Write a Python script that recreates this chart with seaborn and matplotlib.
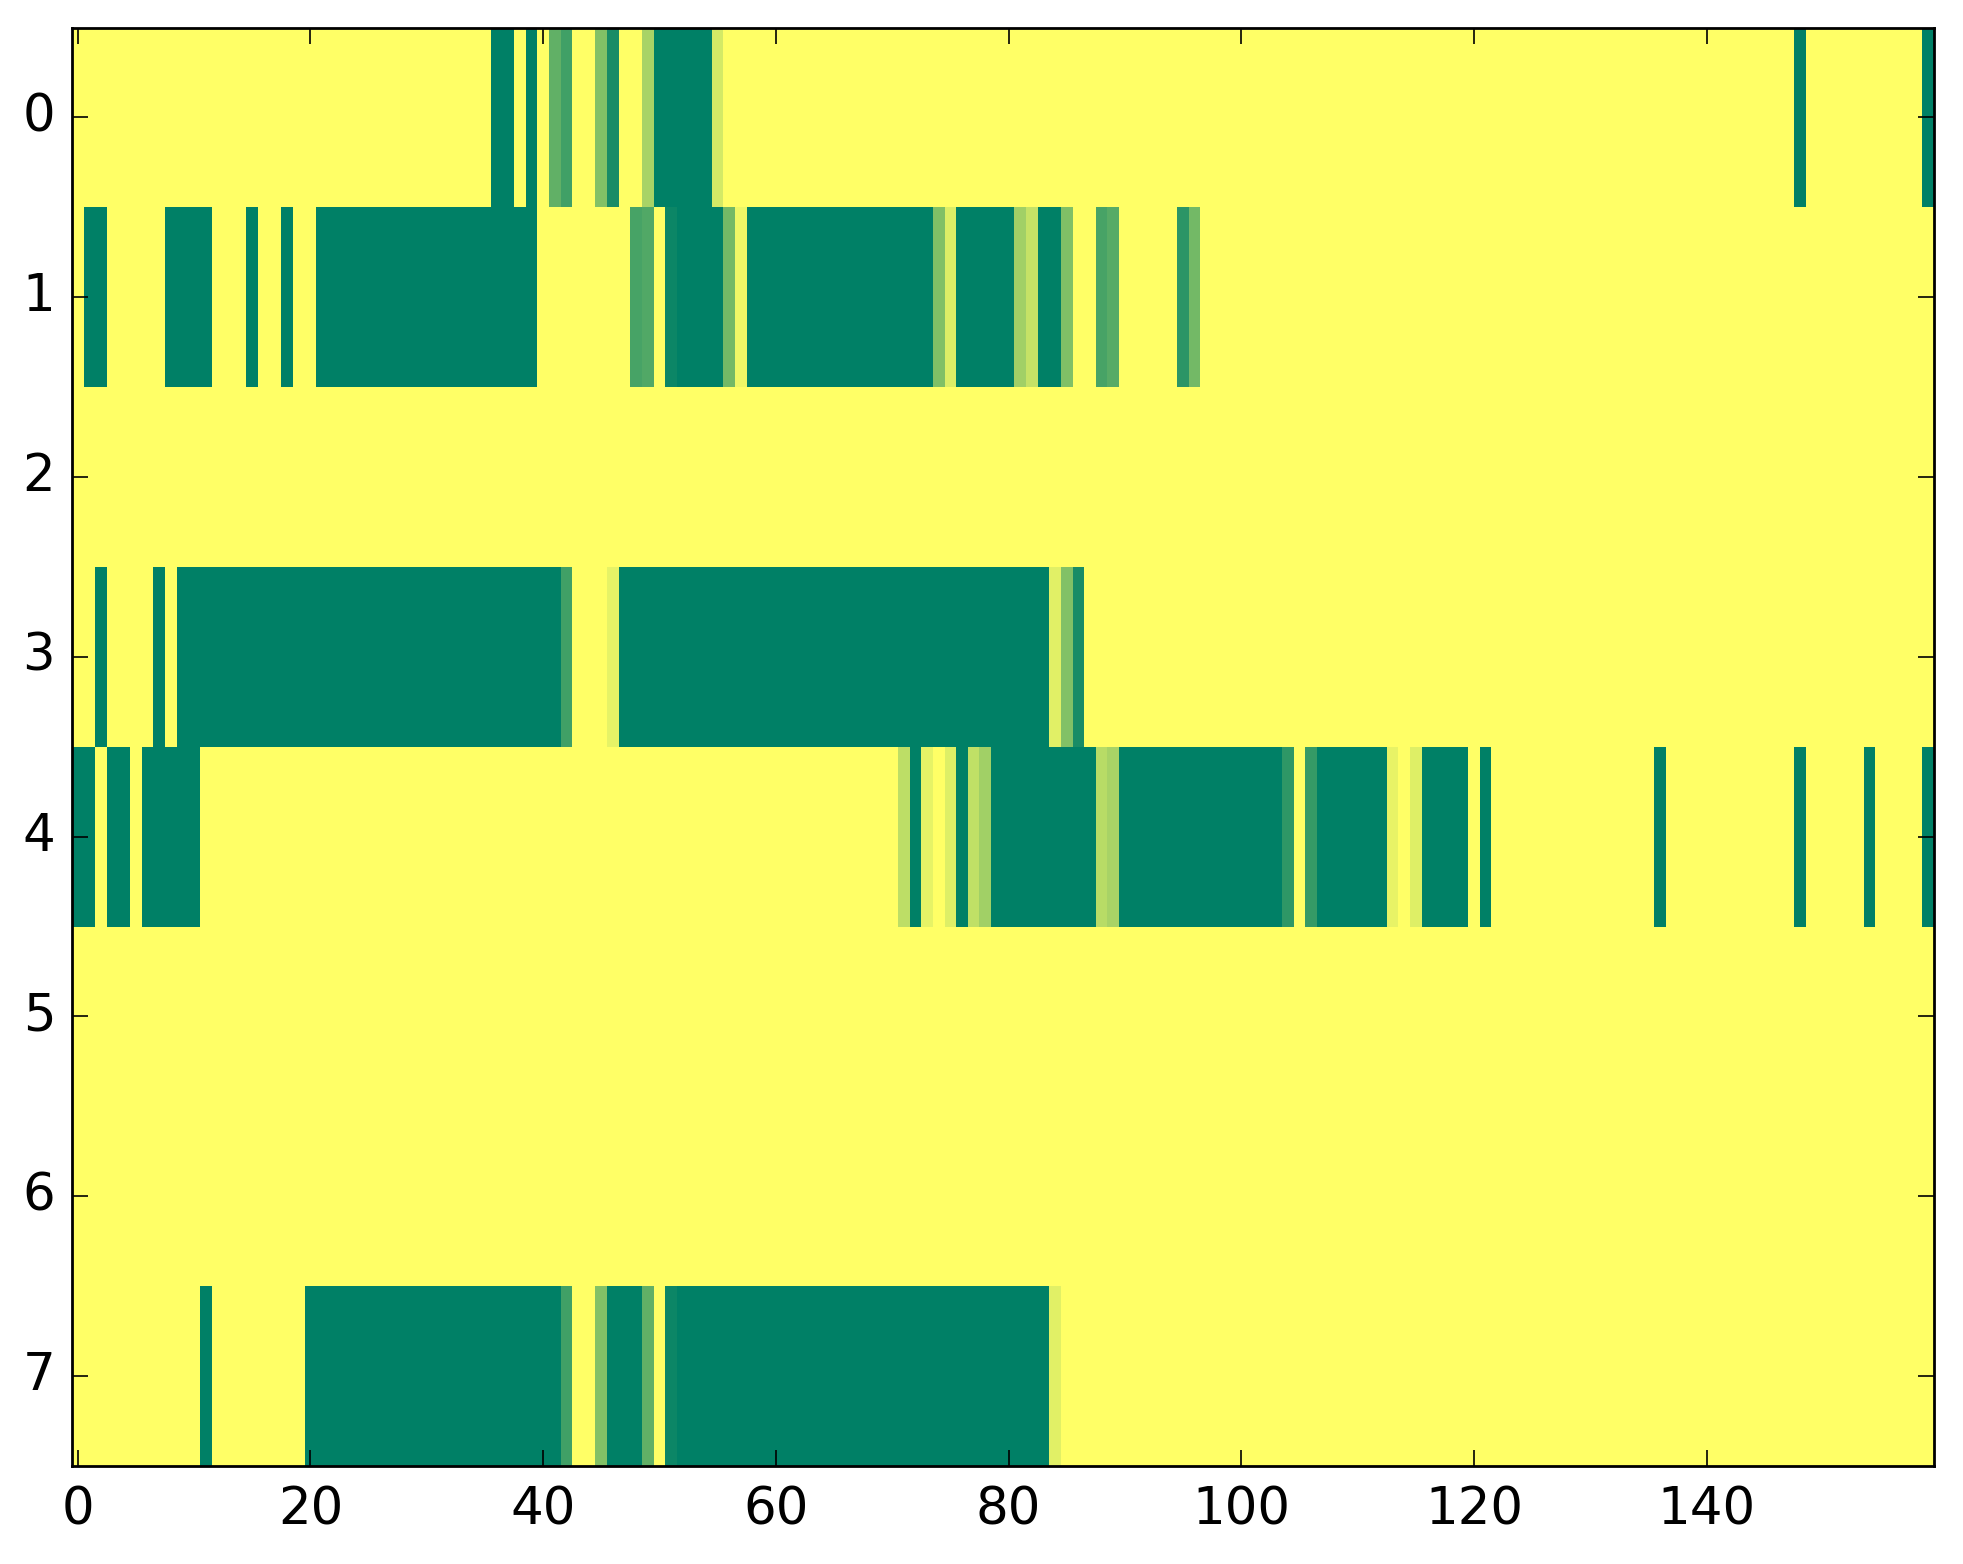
import numpy as np
import matplotlib
matplotlib.use("Agg")
import matplotlib.pyplot as plt
import seaborn as sns

# Run-length encoded rows: (value, number of cells)
row0_runs = [(1, 36), (0, 2), (1, 1), (0, 1), (1, 1), (0.38, 1), (0.25, 1), (1, 2),
             (0.51, 1), (0.10, 1), (1, 2), (0.66, 1), (0, 5), (0.83, 1), (1, 92),
             (0, 1), (1, 10), (0, 1)]
row1_runs = [(1, 1), (0, 2), (1, 5), (0, 4), (1, 3), (0, 1), (1, 2), (0, 1), (1, 2),
             (0, 19), (1, 8), (0.28, 1), (0.32, 1), (1, 1), (0.05, 1), (0, 4),
             (0.45, 1), (0.93, 1), (0, 16), (0.50, 1), (0.86, 1), (0, 5), (0.63, 1),
             (0.77, 1), (0, 2), (0.50, 1), (1, 2), (0.28, 1), (0.34, 1), (1, 5),
             (0.17, 1), (0.45, 1), (1, 63)]
row2_runs = [(1, 160)]
row3_runs = [(1, 2), (0, 1), (1, 4), (0, 1), (1, 1), (0, 33), (0.25, 1), (1, 3),
             (0.90, 1), (0, 37), (0.88, 1), (0.51, 1), (0.10, 1), (1, 73)]
row4_runs = [(0, 2), (1, 1), (0, 2), (1, 1), (0, 5), (1, 60), (0.74, 1), (0, 1),
             (0.90, 1), (1, 1), (0.87, 1), (0, 1), (0.75, 1), (0.63, 1), (0, 9),
             (0.72, 1), (0.66, 1), (0, 14), (0.18, 1), (1, 1), (0.21, 1), (0, 6),
             (0.91, 1), (1, 1), (0.87, 1), (0, 4), (1, 1), (0, 1), (1, 14), (0, 1),
             (1, 11), (0, 1), (1, 5), (0, 1), (1, 4), (0, 1)]
row5_runs = [(1, 160)]
row6_runs = [(1, 160)]
row7_runs = [(1, 11), (0, 1), (1, 8), (0, 22), (0.25, 1), (1, 2), (0.51, 1), (0, 3),
             (0.38, 1), (1, 1), (0.05, 1), (0, 32), (0.88, 1), (1, 75)]

all_rows = [row0_runs, row1_runs, row2_runs, row3_runs,
            row4_runs, row5_runs, row6_runs, row7_runs]

x_tick_values = [0, 20, 40, 60, 80, 100, 120, 140]
y_tick_values = [0, 1, 2, 3, 4, 5, 6, 7]


def decode(runs):
    vals = [v for v, _ in runs]
    counts = [c for _, c in runs]
    return np.repeat(np.array(vals, dtype=float), counts)


matrix = np.vstack([decode(r) for r in all_rows])

sns.set_style("white")
plt.rcParams["font.family"] = ["DejaVu Sans"]

W, H, DPI = 1963, 1564, 200
fig = plt.figure(figsize=(W / DPI, H / DPI), dpi=DPI)
left, right, top, bottom = 71.9, 1933.5, 27.5, 1466.0
ax = fig.add_axes([left / W, 1 - bottom / H, (right - left) / W, (bottom - top) / H])

sns.heatmap(matrix, cmap="summer", vmin=0, vmax=1, cbar=False, ax=ax)
ax.set_axisbelow(False)

ax.set_xticks(np.array(x_tick_values) + 0.5)
ax.set_xticklabels([str(v) for v in x_tick_values], rotation=0)
ax.set_yticks(np.array(y_tick_values) + 0.5)
ax.set_yticklabels([str(v) for v in y_tick_values], rotation=0)

for s in ax.spines.values():
    s.set_visible(True)
    s.set_linewidth(1.0)
    s.set_color("black")
    s.set_zorder(5)

ax.tick_params(axis="both", which="major", direction="in", length=5.6, width=0.6,
               top=True, right=True, bottom=True, left=True, labelsize=18.5,
               colors="black")
ax.tick_params(axis="x", pad=7)
ax.tick_params(axis="y", pad=6)

fig.savefig("out.png", dpi=DPI)
